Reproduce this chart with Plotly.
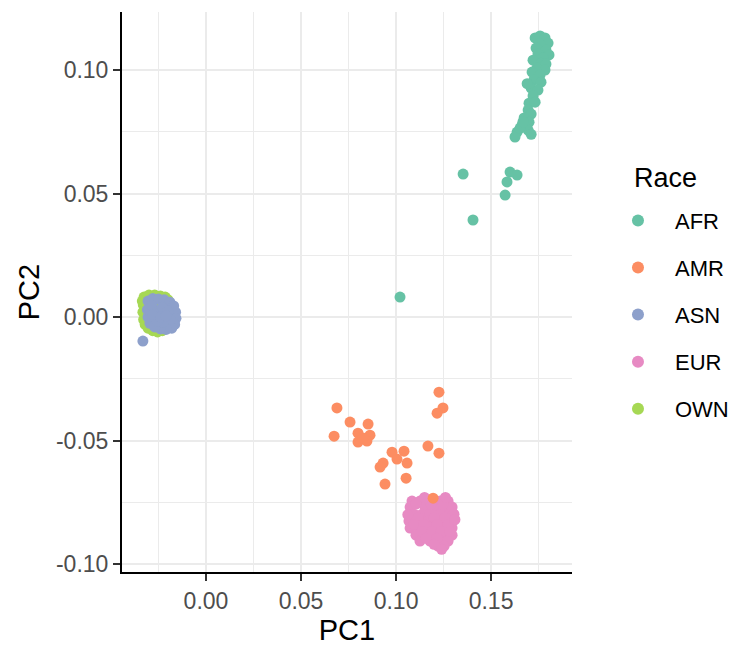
import plotly.graph_objects as go

# ---- data (PC1, PC2) per group ----
races = ["AFR", "AMR", "ASN", "EUR", "OWN"]
colors = {"AFR": "#66C2A5", "AMR": "#FC8D62", "ASN": "#8DA0CB", "EUR": "#E78AC3", "OWN": "#A6D854"}

afr_pc1 = [0.1732, 0.1758, 0.1784, 0.1800, 0.1758, 0.1737, 0.1789, 0.1805, 0.1747, 0.1774,
           0.1721, 0.1763, 0.1789, 0.1742, 0.1784, 0.1716, 0.1758, 0.1726, 0.1763, 0.1711,
           0.1747, 0.1721, 0.1700, 0.1732, 0.1695, 0.1711, 0.1674, 0.1700, 0.1663, 0.1695,
           0.1637, 0.1626, 0.1653, 0.1600, 0.1637, 0.1584, 0.1574, 0.1353, 0.1405, 0.1021,
           0.1690, 0.1668, 0.1711]
afr_pc2 = [0.1130, 0.1138, 0.1130, 0.1109, 0.1105, 0.1089, 0.1081, 0.1061, 0.1065, 0.1049,
           0.1040, 0.1028, 0.1024, 0.1008, 0.1000, 0.0992, 0.0980, 0.0960, 0.0951, 0.0927,
           0.0919, 0.0895, 0.0866, 0.0870, 0.0838, 0.0822, 0.0806, 0.0789, 0.0777, 0.0757,
           0.0749, 0.0729, 0.0765, 0.0587, 0.0575, 0.0547, 0.0494, 0.0579, 0.0393, 0.0081,
           0.0945, 0.0790, 0.0740]

amr_pc1 = [0.0689, 0.0758, 0.0853, 0.0674, 0.0800, 0.0863, 0.0800, 0.0847, 0.0826, 0.0979,
           0.1042, 0.1005, 0.1058, 0.0932, 0.0916, 0.1053, 0.0942, 0.1168, 0.1226, 0.1226,
           0.1247, 0.1216, 0.1195]
amr_pc2 = [-0.0368, -0.0425, -0.0433, -0.0482, -0.0470, -0.0478, -0.0506, -0.0502, -0.0490, -0.0547,
           -0.0543, -0.0575, -0.0591, -0.0591, -0.0607, -0.0652, -0.0676, -0.0522, -0.0551, -0.0304,
           -0.0368, -0.0389, -0.0733]

asn_pc1 = [-0.0305, -0.0280, -0.0250, -0.0220, -0.0190, -0.0170, -0.0160, -0.0158, -0.0165, -0.0180,
           -0.0210, -0.0240, -0.0270, -0.0295, -0.0305, -0.0308, -0.0285, -0.0260, -0.0230, -0.0200,
           -0.0190, -0.0225, -0.0255, -0.0280, -0.0240, -0.0210, -0.0332]
asn_pc2 = [0.0065, 0.0075, 0.0073, 0.0070, 0.0060, 0.0045, 0.0020, -0.0005, -0.0030, -0.0045,
           -0.0050, -0.0048, -0.0040, -0.0025, 0.0000, 0.0030, 0.0045, 0.0020, 0.0040, 0.0025,
           -0.0010, -0.0020, -0.0015, 0.0010, 0.0000, 0.0005, -0.0097]

eur_pc1 = [0.1084, 0.1126, 0.1232, 0.1274,
           0.1074, 0.1153, 0.1211, 0.1263, 0.1295,
           0.1095, 0.1137, 0.1179, 0.1232, 0.1284, 0.1305,
           0.1068, 0.1116, 0.1168, 0.1216, 0.1263, 0.1300,
           0.1074, 0.1126, 0.1184, 0.1242, 0.1295,
           0.1105, 0.1153, 0.1205, 0.1258, 0.1295,
           0.1126, 0.1179, 0.1232, 0.1274,
           0.1221, 0.1253,
           0.1105, 0.1184, 0.1247, 0.1116, 0.1200, 0.1258, 0.1095, 0.1147, 0.1216, 0.1274,
           0.1137, 0.1190, 0.1237, 0.1284, 0.1158, 0.1216, 0.1200, 0.1240, 0.1150, 0.1260,
           0.1062, 0.1310]
eur_pc2 = [-0.0745, -0.0745, -0.0745, -0.0745,
           -0.0769, -0.0769, -0.0769, -0.0769, -0.0769,
           -0.0798, -0.0798, -0.0798, -0.0798, -0.0798, -0.0798,
           -0.0826, -0.0826, -0.0826, -0.0826, -0.0826, -0.0826,
           -0.0854, -0.0854, -0.0854, -0.0854, -0.0854,
           -0.0883, -0.0883, -0.0883, -0.0883, -0.0883,
           -0.0907, -0.0907, -0.0907, -0.0907,
           -0.0927, -0.0927,
           -0.0757, -0.0757, -0.0757, -0.0812, -0.0812, -0.0812, -0.0840, -0.0840, -0.0840, -0.0840,
           -0.0868, -0.0868, -0.0868, -0.0868, -0.0895, -0.0895, -0.0920, -0.0940, -0.0730, -0.0730,
           -0.0800, -0.0820]

own_pc1 = [-0.0326, -0.0300, -0.0270, -0.0240, -0.0215, -0.0200, -0.0330, -0.0332, -0.0328, -0.0320,
           -0.0305, -0.0280, -0.0255, -0.0230, -0.0300, -0.0265, -0.0240, -0.0210, -0.0285, -0.0250,
           -0.0220, -0.0335]
own_pc2 = [0.0081, 0.0089, 0.0089, 0.0085, 0.0081, 0.0070, 0.0050, 0.0020, -0.0010, -0.0030,
           -0.0045, -0.0055, -0.0060, -0.0055, 0.0060, 0.0040, 0.0010, -0.0020, 0.0000, 0.0070,
           0.0050, 0.0065]

data = {
    "AFR": (afr_pc1, afr_pc2),
    "AMR": (amr_pc1, amr_pc2),
    "ASN": (asn_pc1, asn_pc2),
    "EUR": (eur_pc1, eur_pc2),
    "OWN": (own_pc1, own_pc2),
}

x_ticks = [0.00, 0.05, 0.10, 0.15]
x_ticktext = ["0.00", "0.05", "0.10", "0.15"]
y_ticks = [-0.10, -0.05, 0.00, 0.05, 0.10]
y_ticktext = ["-0.10", "-0.05", "0.00", "0.05", "0.10"]

draw_order = ["OWN", "ASN", "EUR", "AMR", "AFR"]

fig = go.Figure()
for r in draw_order:
    xs, ys = data[r]
    fig.add_trace(go.Scatter(
        x=xs, y=ys, mode="markers", name=r,
        legendgroup=r, legendrank=races.index(r) + 1,
        marker=dict(color=colors[r], size=11, line=dict(width=0)),
    ))

font_family = "Liberation Sans, Arial, sans-serif"
grid_col = "#EBEBEB"

fig.update_layout(
    width=735, height=646,
    margin=dict(l=122, r=163, t=12, b=74, autoexpand=False),
    paper_bgcolor="white", plot_bgcolor="white",
    font=dict(family=font_family, color="black"),
    showlegend=True,
    legend=dict(
        font=dict(size=22, color="black"),
        x=1.0644, xanchor="left", y=0.665, yanchor="top",
        tracegroupgap=15.5, itemsizing="constant", itemwidth=64,
        bgcolor="rgba(0,0,0,0)",
    ),
    annotations=[dict(
        text="Race", x=1.1333, y=0.703, xref="paper", yref="paper",
        xanchor="left", yanchor="middle", showarrow=False,
        font=dict(size=27, color="black"),
    )],
    xaxis=dict(
        range=[-0.0442, 0.1926], tickvals=x_ticks, ticktext=x_ticktext,
        showgrid=True, gridcolor=grid_col, gridwidth=2,
        minor=dict(dtick=0.025, tick0=0, showgrid=True, gridcolor=grid_col, gridwidth=1, ticks=""),
        showline=True, linecolor="black", linewidth=2, mirror=False,
        ticks="outside", ticklen=7, tickwidth=2, tickcolor="#333333",
        tickfont=dict(size=23, color="#4D4D4D"),
        title=dict(text="PC1", font=dict(size=29, color="black"), standoff=10),
        zeroline=False, automargin=False,
    ),
    yaxis=dict(
        range=[-0.1032, 0.1235], tickvals=y_ticks, ticktext=y_ticktext,
        showgrid=True, gridcolor=grid_col, gridwidth=2,
        minor=dict(dtick=0.025, tick0=0, showgrid=True, gridcolor=grid_col, gridwidth=1, ticks=""),
        showline=True, linecolor="black", linewidth=2, mirror=False,
        ticks="outside", ticklen=7, tickwidth=2, tickcolor="#333333",
        tickfont=dict(size=23, color="#4D4D4D"),
        title=dict(text="PC2", font=dict(size=29, color="black"), standoff=8),
        zeroline=False, automargin=False,
    ),
)

fig.write_html("out.html", config={"displayModeBar": False},
               post_script="document.body.style.margin='0';")
